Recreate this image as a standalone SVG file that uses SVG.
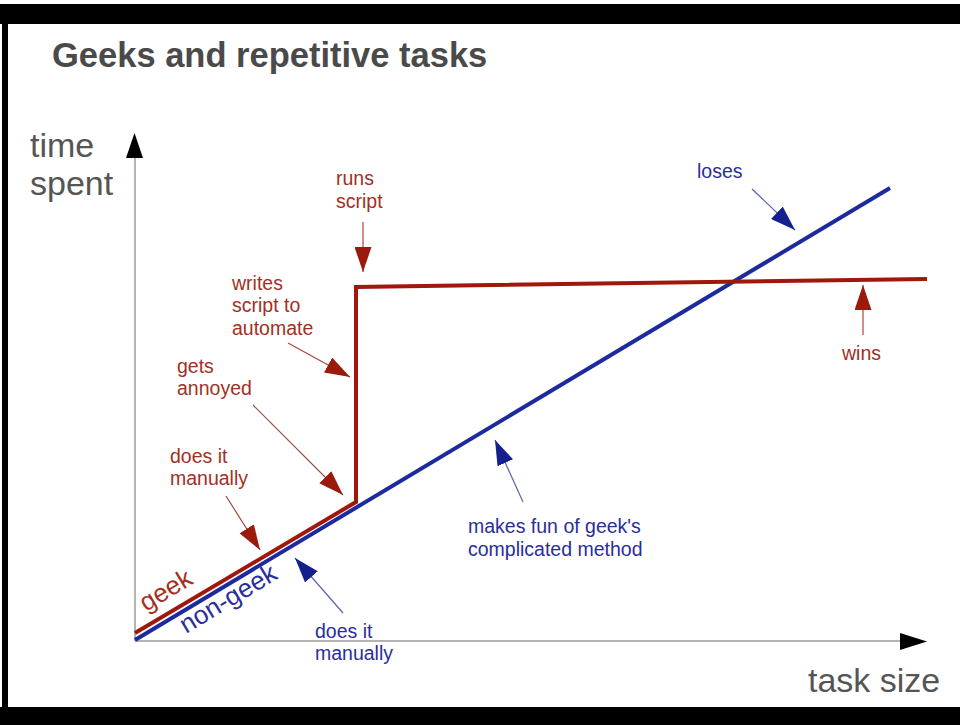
<svg xmlns="http://www.w3.org/2000/svg" width="960" height="725" viewBox="0 0 960 725">
  <style>
    .title { font-family: "Liberation Sans", Arial, sans-serif; font-weight: bold; font-size: 34.5px; fill: #4a4a4a; }
    .axislbl { font-family: "Liberation Sans", Arial, sans-serif; font-size: 34px; fill: #555555; }
    .lbl { font-family: "Liberation Sans", Arial, sans-serif; font-size: 19.5px; }
    .red { fill: #a3301f; }
    .blue { fill: #2a2e9c; }
    .tag { font-family: "Liberation Sans", Arial, sans-serif; font-size: 26px; }
    .axis { stroke: #b4b4b4; stroke-width: 2; fill: none; }
    .redline { stroke: #a0180c; stroke-width: 4; fill: none; stroke-linejoin: miter; }
    .blueline { stroke: #1c2a9e; stroke-width: 4; fill: none; }
    .rarrow { stroke: #a8463c; stroke-width: 1.2; fill: none; marker-end: url(#rhead); }
    .barrow { stroke: #5a62b0; stroke-width: 1.2; fill: none; marker-end: url(#bhead); }
  </style>
  <defs>
    <marker id="rhead" viewBox="0 0 25 17" refX="25" refY="8.5" markerWidth="25" markerHeight="17" markerUnits="userSpaceOnUse" orient="auto">
      <path d="M0,0 L25,8.5 L0,17 Z" fill="#9a1a0c"/>
    </marker>
    <marker id="bhead" viewBox="0 0 25 17" refX="25" refY="8.5" markerWidth="25" markerHeight="17" markerUnits="userSpaceOnUse" orient="auto">
      <path d="M0,0 L25,8.5 L0,17 Z" fill="#14208e"/>
    </marker>
  </defs>

  <rect x="0" y="0" width="960" height="725" fill="#ffffff"/>
  <!-- frame -->
  <rect x="0" y="4" width="960" height="20" fill="#000000"/>
  <rect x="2" y="4" width="6" height="710" fill="#000000"/>
  <rect x="0" y="707" width="960" height="18" fill="#000000"/>

  <text class="title" x="52" y="67">Geeks and repetitive tasks</text>

  <!-- axes -->
  <g id="axes">
    <line class="axis" x1="135" y1="641" x2="135" y2="156"/>
    <polygon points="126,158 143,158 134.5,133" fill="#000000"/>
    <line class="axis" x1="135" y1="641" x2="902" y2="641"/>
    <polygon points="900,633 900,650 927,641.5" fill="#000000"/>
    <text class="axislbl" x="30" y="157">time</text>
    <text class="axislbl" x="30" y="195">spent</text>
    <text class="axislbl" x="808" y="692">task size</text>
  </g>

  <!-- curves -->
  <g id="non-geek">
    <line class="blueline" x1="135" y1="640" x2="890" y2="188"/>
    <text class="tag blue" x="186" y="634" transform="rotate(-31 186 634)">non-geek</text>
  </g>
  <g id="geek">
    <polyline class="redline" points="135,633 356,502 356,287 927,279"/>
    <text class="tag red" x="146" y="612" transform="rotate(-31 146 612)">geek</text>
  </g>

  <!-- connectors -->
  <g id="connectors">
    <line class="rarrow" x1="363" y1="222" x2="363" y2="272"/>
    <line class="rarrow" x1="288" y1="343" x2="350" y2="377"/>
    <line class="rarrow" x1="253" y1="405" x2="343" y2="495"/>
    <line class="rarrow" x1="226" y1="496" x2="260" y2="550"/>
    <line class="barrow" x1="343" y1="613" x2="295" y2="558"/>
    <line class="barrow" x1="523" y1="502" x2="495" y2="440"/>
    <line class="barrow" x1="752" y1="189" x2="795" y2="230"/>
    <line class="rarrow" x1="863" y1="335" x2="863" y2="285"/>
  </g>

  <!-- labels -->
  <g id="lbl-runs">
    <text class="lbl red" x="336" y="185">runs</text>
    <text class="lbl red" x="336" y="208">script</text>
  </g>
  <g id="lbl-writes">
    <text class="lbl red" x="232" y="290">writes</text>
    <text class="lbl red" x="232" y="312">script to</text>
    <text class="lbl red" x="232" y="335">automate</text>
  </g>
  <g id="lbl-annoyed">
    <text class="lbl red" x="177" y="373">gets</text>
    <text class="lbl red" x="177" y="395">annoyed</text>
  </g>
  <g id="lbl-geek-manual">
    <text class="lbl red" x="170" y="463">does it</text>
    <text class="lbl red" x="170" y="485">manually</text>
  </g>
  <g id="lbl-nongeek-manual">
    <text class="lbl blue" x="315" y="638">does it</text>
    <text class="lbl blue" x="315" y="660">manually</text>
  </g>
  <g id="lbl-fun">
    <text class="lbl blue" x="468" y="533">makes fun of geek's</text>
    <text class="lbl blue" x="468" y="556">complicated method</text>
  </g>
  <g id="lbl-loses">
    <text class="lbl blue" x="697" y="178">loses</text>
  </g>
  <g id="lbl-wins">
    <text class="lbl red" x="842" y="360">wins</text>
  </g>
</svg>
